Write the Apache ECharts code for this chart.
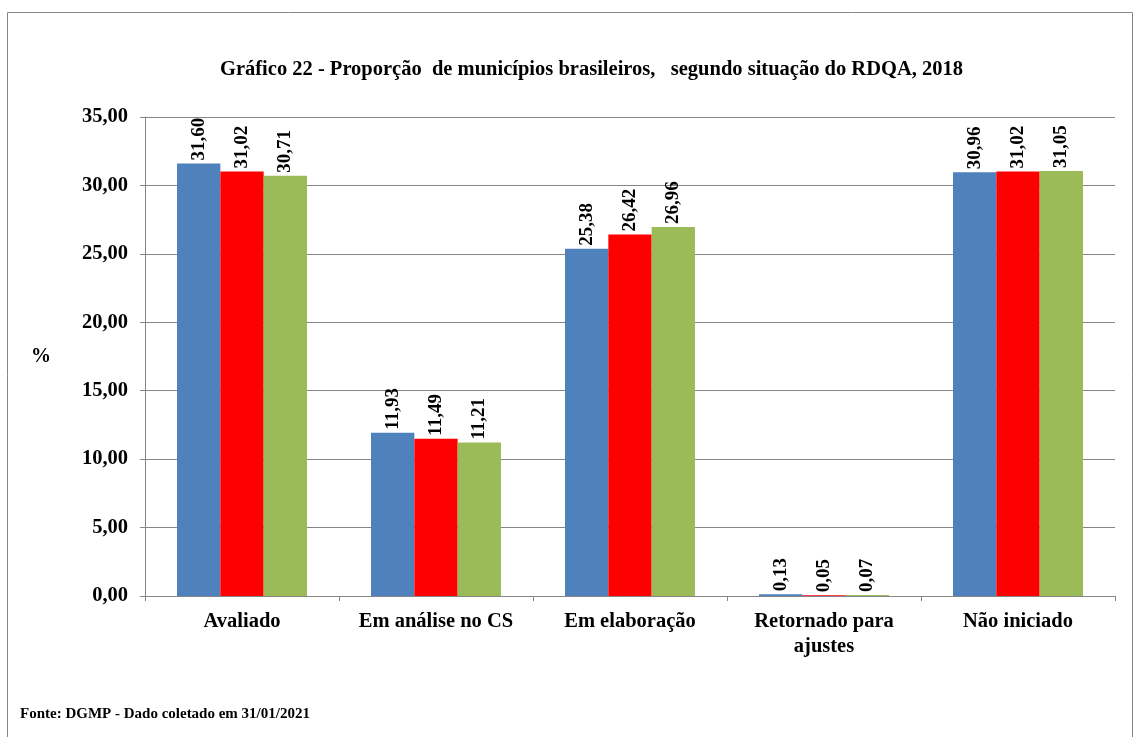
<!DOCTYPE html>
<html lang="pt">
<head>
<meta charset="UTF-8">
<title>Gráfico 22</title>
<style>
  html, body { margin: 0; padding: 0; background: #fff; }
  #main { width: 1134px; height: 737px; }
</style>
</head>
<body>
<div id="main"></div>
<script src="https://cdn.jsdelivr.net/npm/echarts@6/dist/echarts.min.js"></script>
<script type="text/javascript">
    // dados
    var categorias = ['Avaliado', 'Em análise no CS', 'Em elaboração', 'Retornado para\najustes', 'Não iniciado'];
    var serieAzul = [31.60, 11.93, 25.38, 0.13, 30.96];
    var serieVermelha = [31.02, 11.49, 26.42, 0.05, 31.02];
    var serieVerde = [30.71, 11.21, 26.96, 0.07, 31.05];
    var cores = ['#4F81BD', '#FF0000', '#9BBB59'];

    var fonte = 'Liberation Serif, Times New Roman, serif';

    function fmt(v) {
        return Number(v).toFixed(2).replace('.', ',');
    }

    function serie(dados, cor) {
        return {
            type: 'bar',
            data: dados,
            barGap: '0%',
            barCategoryGap: '33%',
            itemStyle: { color: cor },
            label: {
                show: true,
                position: 'top',
                rotate: 90,
                align: 'left',
                verticalAlign: 'middle',
                distance: 3,
                fontFamily: fonte,
                fontWeight: 'bold',
                fontSize: 19,
                color: '#000',
                formatter: function (p) { return fmt(p.value); }
            }
        };
    }

    var myChart = echarts.init(document.getElementById('main'));
    var option = {
        animation: false,
        textStyle: { fontFamily: fonte },
        title: {
            text: 'Gráfico 22 - Proporção  de municípios brasileiros,   segundo situação do RDQA, 2018',
            left: 215,
            top: 54,
            textStyle: { fontFamily: fonte, fontWeight: 'bold', fontSize: 20.5, color: '#000' }
        },
        graphic: [
            {
                type: 'rect',
                shape: { x: 7.5, y: 12.5, width: 1125, height: 740 },
                style: { fill: 'none', stroke: '#868686', lineWidth: 1 },
                silent: true
            },
            {
                type: 'text',
                left: 20,
                top: 707,
                style: {
                    text: 'Fonte: DGMP - Dado coletado em 31/01/2021',
                    font: 'bold 15px ' + fonte,
                    fill: '#000'
                }
            }
        ],
        grid: { left: 145, right: 19, top: 117, bottom: 141 },
        xAxis: {
            type: 'category',
            data: categorias,
            axisLine: { lineStyle: { color: '#868686', width: 1 } },
            axisTick: { show: true, length: 5, lineStyle: { color: '#868686' } },
            axisLabel: {
                margin: 13,
                interval: 0,
                fontFamily: fonte,
                fontWeight: 'bold',
                fontSize: 20.5,
                lineHeight: 25,
                color: '#000'
            }
        },
        yAxis: {
            type: 'value',
            min: 0,
            max: 35,
            interval: 5,
            name: '%',
            nameLocation: 'middle',
            nameRotate: 0,
            nameGap: 94,
            nameTextStyle: { fontFamily: fonte, fontWeight: 'bold', fontSize: 20, color: '#000' },
            axisLine: { show: true, lineStyle: { color: '#868686', width: 1 } },
            axisTick: { show: true, length: 5, lineStyle: { color: '#868686' } },
            splitLine: { lineStyle: { color: '#868686', width: 1 } },
            axisLabel: {
                margin: 17,
                fontFamily: fonte,
                fontWeight: 'bold',
                fontSize: 20.5,
                color: '#000',
                formatter: function (v) { return fmt(v); }
            }
        },
        series: [
            serie(serieAzul, cores[0]),
            serie(serieVermelha, cores[1]),
            serie(serieVerde, cores[2])
        ]
    };
    myChart.setOption(option);
</script>
</body>
</html>
